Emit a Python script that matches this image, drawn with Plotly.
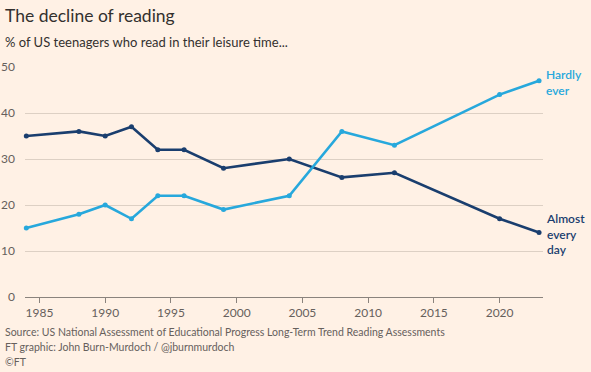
import plotly.graph_objects as go

years = [1984, 1988, 1990, 1992, 1994, 1996, 1999, 2004, 2008, 2012, 2020, 2023]
almost_every_day = [35, 36, 35, 37, 32, 32, 28, 30, 26, 27, 17, 14]
hardly_ever = [15, 18, 20, 17, 22, 22, 19, 22, 36, 33, 44, 47]
x_ticks = [1985, 1990, 1995, 2000, 2005, 2010, 2015, 2020]
y_ticks = [0, 10, 20, 30, 40, 50]

DARK = "#1a3e6e"
LIGHT = "#27a8dc"
BG = "#fff1e5"
FONT = "Lato, Open Sans, sans-serif"

fig = go.Figure()
fig.add_trace(go.Scatter(x=years, y=almost_every_day, mode="lines+markers",
                         line=dict(color=DARK, width=2.6), marker=dict(size=5, color=DARK),
                         cliponaxis=False, showlegend=False))
fig.add_trace(go.Scatter(x=years, y=hardly_ever, mode="lines+markers",
                         line=dict(color=LIGHT, width=2.6), marker=dict(size=5, color=LIGHT),
                         cliponaxis=False, showlegend=False))

fig.update_layout(
    width=591, height=372,
    margin=dict(l=25, r=48, t=67, b=75),
    paper_bgcolor=BG, plot_bgcolor=BG,
    font=dict(family=FONT, color="#66605c", size=11),
    xaxis=dict(range=[1983.9, 2023.3], tickvals=x_ticks, showgrid=False, automargin=False,
               showline=True, linecolor="#8a837d", linewidth=1,
               ticks="outside", ticklen=5, tickcolor="#8a837d",
               tickfont=dict(size=12, color="#66605c"), zeroline=False),
    yaxis=dict(range=[0, 50], tickvals=y_ticks, showgrid=True, gridcolor="#ddd0c4",
               gridwidth=1, zeroline=False, ticks="", ticklabelstandoff=9, automargin=False,
               tickfont=dict(size=12, color="#66605c")),
)

ann = []
ann.append(dict(text="The decline of reading", xref="paper", yref="paper", x=-0.042, y=1.225,
                xanchor="left", yanchor="middle", showarrow=False,
                font=dict(size=17.5, color="#33302e", family=FONT)))
ann.append(dict(text="% of US teenagers who read in their leisure time...", xref="paper", yref="paper",
                x=-0.042, y=1.107, xanchor="left", yanchor="middle", showarrow=False,
                font=dict(size=13, color="#33302e", family=FONT)))
src = ["Source: US National Assessment of Educational Progress Long-Term Trend Reading Assessments",
       "FT graphic: John Burn-Murdoch / @jburnmurdoch",
       "\u00a9FT"]
for i, s in enumerate(src):
    ann.append(dict(text=s, xref="paper", yref="paper", x=-0.042, y=-0.152 - 0.065 * i,
                    xanchor="left", yanchor="middle", showarrow=False,
                    font=dict(size=10.5, color="#66605c", family=FONT)))
ann.append(dict(text="Hardly<br>ever", x=years[-1], y=hardly_ever[-1], xref="x", yref="y",
                xanchor="left", yanchor="middle", xshift=5, yshift=-2, align="left", showarrow=False,
                font=dict(size=12, color=LIGHT, family=FONT, weight=600)))
ann.append(dict(text="Almost<br>every<br>day", x=years[-1], y=almost_every_day[-1], xref="x", yref="y",
                xanchor="left", yanchor="middle", xshift=5, yshift=-1, align="left", showarrow=False,
                font=dict(size=12, color=DARK, family=FONT, weight=600)))
fig.update_layout(annotations=ann)

fig.write_html("out.html", config={"displayModeBar": False},
               post_script="document.body.style.margin='0';")
